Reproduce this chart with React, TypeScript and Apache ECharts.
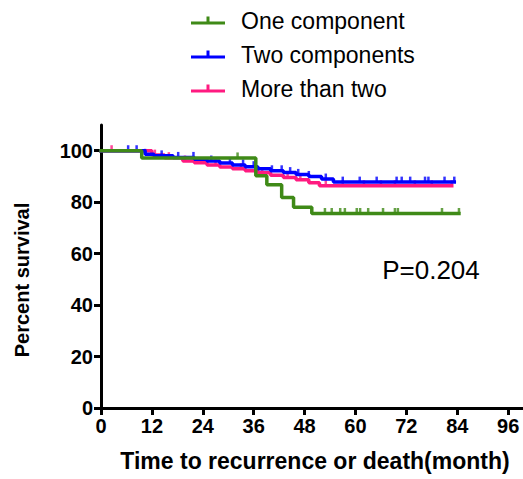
import React, { useEffect, useRef } from "react";
import * as echarts from "echarts";

const seriesNames = ["One component", "Two components", "More than two"];
const seriesColors = ["#3F8A17", "#0000FF", "#FF1A80"];

// One component (green)
const oneTimes = [0, 9.6, 36.5, 39.1, 42.6, 45.4, 49.7, 84.4];
const oneSurv = [100, 97.2, 90.3, 86.8, 81.8, 78.0, 75.6, 75.6];
const oneCensor = [32.2, 52.8, 54.4, 56.4, 57.5, 60.3, 61.1, 63, 66.5, 69.3, 70, 80.4, 84.4];

// Two components (blue)
const twoTimes = [0, 10.4, 12.5, 17, 22, 25, 28, 31, 34, 37, 40, 43, 46, 49, 52, 54.8, 83.3];
const twoSurv = [100, 98.6, 98.0, 97.4, 96.7, 96.0, 95.2, 94.5, 93.8, 93.0, 92.2, 91.5, 90.8, 90.0, 89.0, 87.8, 87.8];
const twoCensor = [6.4, 8.4, 10.4, 14.3, 18.2, 21.8, 26, 30.4, 33.5, 36, 40.3, 42.6, 44.6, 46.5, 49, 53, 57, 61, 65, 69.7, 70.9, 72.9, 76.4, 77.2, 81, 83.3];

// More than two (pink)
const moreTimes = [0, 12, 15, 19.3, 22, 25, 28, 31, 34, 37, 40, 43, 46, 49, 51.5, 82.7];
const moreSurv = [100, 98.3, 97.3, 96.0, 95.3, 94.5, 93.7, 93.0, 92.2, 91.4, 90.5, 89.6, 88.7, 87.6, 86.4, 86.4];
const moreCensor = [2.5, 12.7, 16, 19.8, 27, 33, 38, 44, 47, 53, 57, 62, 66, 69.3, 74, 78, 82.7];

const xTicks = [0, 12, 24, 36, 48, 60, 72, 84, 96];
const yTicks = [0, 20, 40, 60, 80, 100];

const xTitle = "Time to recurrence or death(month)";
const yTitle = "Percent survival";
const pText = "P=0.204";

const FONT = "'Liberation Sans', Arial, Helvetica, sans-serif";

function survAt(times: number[], surv: number[], t: number): number {
  let v = surv[0];
  for (let i = 0; i < times.length; i++) {
    if (times[i] <= t) v = surv[i];
  }
  return v;
}

function pairs(times: number[], surv: number[]) {
  return times.map((t, i) => [t, surv[i]]);
}

function censorPts(times: number[], surv: number[], c: number[]) {
  return c.map((t) => [t, survAt(times, surv, t)]);
}

const legendIcon = "path://M0,6 H34 V9 H0 Z M15.5,1 H18.5 V7 H15.5 Z";

export default function App() {
  const ref = useRef<HTMLDivElement>(null);
  useEffect(() => {
    if (!ref.current) return;
    const chart = echarts.init(ref.current, undefined, { renderer: "svg" });
    const groups = [
      { name: seriesNames[2], color: seriesColors[2], t: moreTimes, s: moreSurv, c: moreCensor },
      { name: seriesNames[1], color: seriesColors[1], t: twoTimes, s: twoSurv, c: twoCensor },
      { name: seriesNames[0], color: seriesColors[0], t: oneTimes, s: oneSurv, c: oneCensor },
    ];
    const series: any[] = [];
    groups.forEach((g, i) => {
      series.push({
        name: g.name,
        type: "line",
        step: "end",
        data: pairs(g.t, g.s),
        showSymbol: false,
        symbol: "none",
        lineStyle: { color: g.color, width: 3.5, cap: "square" },
        itemStyle: { color: g.color },
        z: 2 + i,
      });
      series.push({
        name: g.name,
        type: "scatter",
        data: censorPts(g.t, g.s, g.c),
        symbol: "rect",
        symbolSize: [2.5, 5],
        symbolOffset: [0, -3],
        itemStyle: { color: g.color },
        z: 2 + i,
      });
    });
    chart.setOption({
      animation: false,
      backgroundColor: "#ffffff",
      legend: {
        orient: "vertical",
        left: 191,
        top: 8,
        padding: 0,
        itemWidth: 34,
        itemHeight: 9,
        itemGap: 9,
        selectedMode: false,
        data: seriesNames.map((n) => ({ name: n, icon: legendIcon })),
        textStyle: {
          fontFamily: FONT,
          fontSize: 23,
          color: "#000",
          lineHeight: 25,
          padding: [0, 0, 0, 11],
        },
      },
      grid: { left: 101, top: 125, width: 422, height: 283, containLabel: false },
      xAxis: {
        type: "value",
        min: 0,
        max: 99.5,
        interval: 12,
        axisLine: { lineStyle: { color: "#000", width: 3 } },
        axisTick: { show: true, length: 7, customValues: xTicks, lineStyle: { color: "#000", width: 3 } },
        axisLabel: {
          customValues: xTicks,
          margin: 8,
          color: "#000",
          fontFamily: FONT,
          fontWeight: "bold",
          fontSize: 20,
        },
        splitLine: { show: false },
      },
      yAxis: {
        type: "value",
        min: 0,
        max: 110,
        interval: 20,
        axisLine: { lineStyle: { color: "#000", width: 3 } },
        axisTick: { show: true, length: 7, customValues: yTicks, lineStyle: { color: "#000", width: 3 } },
        axisLabel: {
          customValues: yTicks,
          margin: 8,
          color: "#000",
          fontFamily: FONT,
          fontWeight: "bold",
          fontSize: 20,
        },
        splitLine: { show: false },
      },
      graphic: [
        {
          type: "text",
          x: 315,
          y: 461,
          style: {
            text: xTitle,
            fontFamily: FONT,
            fontWeight: "bold",
            fontSize: 23,
            fill: "#000",
            align: "center",
            verticalAlign: "middle",
          },
        },
        {
          type: "text",
          x: 22,
          y: 280,
          rotation: Math.PI / 2,
          style: {
            text: yTitle,
            fontFamily: FONT,
            fontWeight: "bold",
            fontSize: 20,
            fill: "#000",
            align: "center",
            verticalAlign: "middle",
          },
        },
        {
          type: "text",
          x: 431,
          y: 270,
          style: {
            text: pText,
            fontFamily: FONT,
            fontSize: 26,
            fill: "#000",
            align: "center",
            verticalAlign: "middle",
          },
        },
      ],
      series,
    });
    return () => chart.dispose();
  }, []);
  return (
    <div
      ref={ref}
      style={{ position: "fixed", left: 0, top: 0, width: 523, height: 479, background: "#fff" }}
    />
  );
}
